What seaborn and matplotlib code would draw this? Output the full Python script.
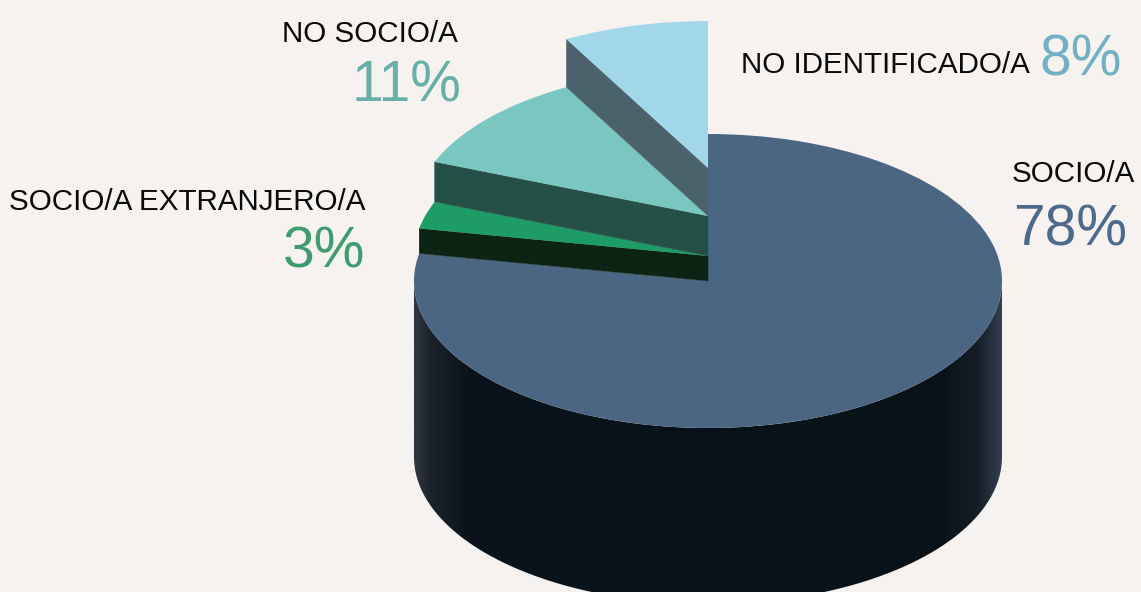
import numpy as np
import matplotlib
matplotlib.use('Agg')
import matplotlib.pyplot as plt
from matplotlib.colors import LinearSegmentedColormap
from matplotlib.patches import Polygon, PathPatch
from matplotlib.path import Path
from matplotlib.transforms import Affine2D
import seaborn as sns

labels = ['SOCIO/A', 'SOCIO/A EXTRANJERO/A', 'NO SOCIO/A', 'NO IDENTIFICADO/A']
values = [78, 3, 11, 8]
value_labels = ['78%', '3%', '11%', '8%']
top_colors = ['#4b6683', '#1d9c65', '#7ac6c0', '#a2d7ea']
face_colors = ['#4b6683', '#0c2413', '#245048', '#4c626b']
text_colors = ['#4d6a8c', '#3f9c6e', '#67afa8', '#72b0c3']

BG = '#f6f2ef'
W, H = 1141, 592
CX, CY, R = 708, 281, 294   # pie centre and radius in pixels
SQUASH = 0.5
DEPTH = 176 / R
# how far each slice top sits above the main disc
lifts = [0, 25 / R, 65 / R, 113 / R]

# pixel anchors of the labels: (x, baseline y)
label_pos = [(1012, 182), (9, 210), (282, 42), (741, 73)]
value_pos = [(1127, 246), (365, 267), (461, 102), (1122, 76)]

sns.set_theme(style='white', rc={'figure.facecolor': BG, 'axes.facecolor': BG})
plt.rcParams['font.family'] = ['Liberation Sans', 'DejaVu Sans']


def px(x, y):
    return (x - CX) / R, (CY - y) / R


def rim(angle, lift=0.0):
    a = np.radians(angle)
    return np.cos(a), np.sin(a) * SQUASH + lift


fig = plt.figure(figsize=(W / 100, H / 100), dpi=100)
ax = fig.add_axes([0, 0, 1, 1])

# side of the cylinder, with lighter edges
theta = np.radians(np.linspace(180, 360, 200))
xs = np.cos(theta)
ys = np.sin(theta) * SQUASH
outline = np.concatenate([
    np.column_stack([xs, ys]),
    np.column_stack([xs[::-1], ys[::-1] - DEPTH]),
])
side = PathPatch(Path(np.vstack([outline, outline[:1]])), transform=ax.transData,
                 facecolor='none', edgecolor='none')
ax.add_patch(side)
side_cmap = LinearSegmentedColormap.from_list('side', [
    (0.0, '#2e3640'), (0.025, '#1b222b'), (0.09, '#0b141c'), (0.5, '#07121a'),
    (0.90, '#0a1219'), (0.96, '#151d27'), (1.0, '#303d4d'),
])
img = ax.imshow(np.linspace(0, 1, 400)[None, :], cmap=side_cmap, aspect='auto',
                extent=(-1, 1, -1.2, 0.1), zorder=1)
img.set_clip_path(side)

# slice tops come from pie, squashed and lifted
wedges, _ = ax.pie(values, colors=sns.color_palette(top_colors), startangle=90,
                   counterclock=False, radius=1, wedgeprops={'linewidth': 0})

edges = 90 - np.cumsum([0] + values) * 3.6
for i, wedge in enumerate(wedges):
    wedge.set_transform(Affine2D().scale(1, SQUASH).translate(0, lifts[i]) + ax.transData)
    wedge.set_zorder(3 + 2 * i)
    if i == 0:
        continue
    # radial face below the slice's clockwise edge
    rx, ry = rim(edges[i], lifts[i])
    low = lifts[i - 1]
    ax.add_patch(Polygon([(0, lifts[i]), (rx, ry), (rx, ry - lifts[i] + low), (0, low)],
                         closed=True, facecolor=face_colors[i], edgecolor=face_colors[i],
                         linewidth=0.3, zorder=2 + 2 * i))

for i in range(len(labels)):
    lx, ly = px(*label_pos[i])
    ax.text(lx, ly, labels[i], color='#0a0a0a', fontsize=21.3, ha='left', va='baseline', zorder=20)
    vx, vy = px(*value_pos[i])
    ax.text(vx, vy, value_labels[i], color=text_colors[i], fontsize=41, ha='right', va='baseline',
            zorder=20)

ax.set_aspect('auto')
ax.set_xlim(-CX / R, (W - CX) / R)
ax.set_ylim((CY - H) / R, CY / R)
ax.axis('off')
fig.savefig('out.png', dpi=100, facecolor=BG)
